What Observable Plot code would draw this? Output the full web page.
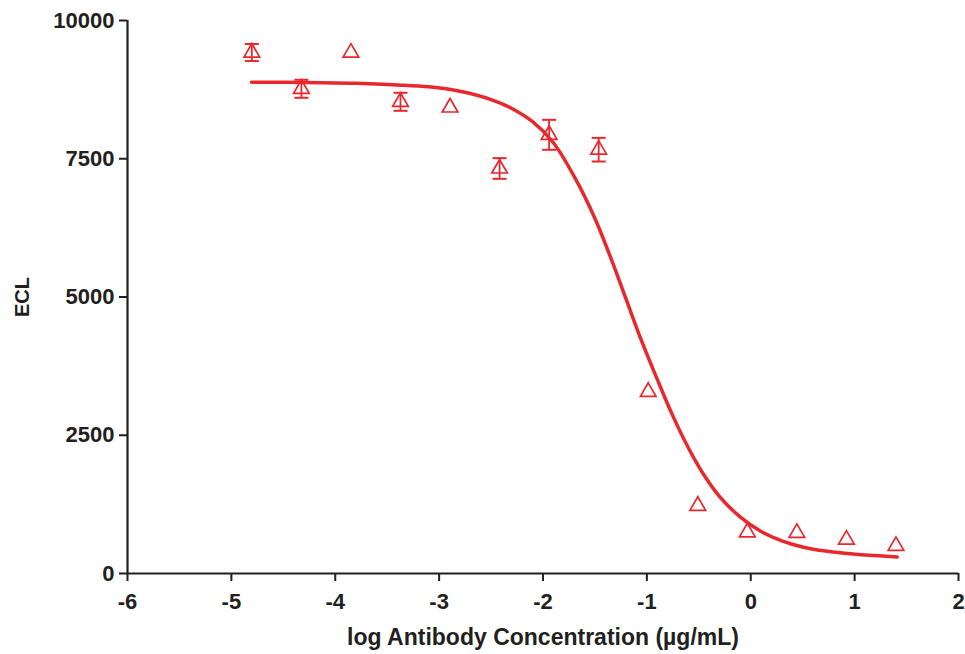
<!DOCTYPE html>
<html>
<head>
<meta charset="utf-8">
<script src="https://cdn.jsdelivr.net/npm/d3@7"></script>
<script src="https://cdn.jsdelivr.net/npm/@observablehq/plot@0.6"></script>
<style>
  html, body { margin: 0; padding: 0; background: #fff; }
  #chart svg { display: block; }
</style>
</head>
<body>
<div id="chart"></div>
<script>
// Measured points (log10 antibody concentration, ECL mean, SD)
const logConc = [-4.803, -4.326, -3.849, -3.372, -2.895, -2.418, -1.941, -1.464, -0.987, -0.510, -0.033, 0.444, 0.921, 1.398];
const eclMean = [9421, 8765, 9418, 8530, 8427, 7324, 7933, 7664, 3285, 1224, 745, 735, 612, 500];
const eclSD   = [154, 163, null, 163, null, 187, 271, 214, null, null, null, null, null, null];

// Fitted curve
const fitX = [-4.806, -4.3, -3.8, -3.4, -3.1, -2.8, -2.5, -2.3, -2.1, -1.9, -1.7, -1.5, -1.35, -1.2, -1.05, -0.9, -0.75, -0.6, -0.45, -0.3, -0.1, 0.1, 0.3, 0.5, 0.7, 0.9, 1.1, 1.41];
const fitY = [8885, 8880, 8865, 8835, 8800, 8720, 8570, 8410, 8170, 7790, 7180, 6420, 5720, 4960, 4200, 3510, 2850, 2270, 1780, 1390, 1020, 760, 590, 480, 410, 365, 335, 300];

const xTicks = [-6, -5, -4, -3, -2, -1, 0, 1, 2];
const yTicks = [0, 2500, 5000, 7500, 10000];
const xTitle = "log Antibody Concentration (µg/mL)";
const yTitle = "ECL";

const points = logConc.map((x, i) => ({x, y: eclMean[i], sd: eclSD[i]}));
const bars = points.filter(d => d.sd != null);
const fit = fitX.map((x, i) => ({x, y: fitY[i]}));

const red = "#e8282d";
const ink = "#231f20";

const cap = { draw(ctx) { ctx.moveTo(-7, 0); ctx.lineTo(7, 0); } };

const chart = Plot.plot({
  width: 965,
  height: 654,
  marginLeft: 127,
  marginRight: 7,
  marginTop: 20,
  marginBottom: 81,
  style: {fontFamily: "'Liberation Sans', Arial, sans-serif", fontSize: "22px", fontWeight: "bold", color: ink, background: "#fff"},
  x: {domain: [-6, 2]},
  y: {domain: [0, 10000]},
  marks: [
    Plot.axisX({ticks: xTicks, tickSize: 8, tickPadding: 12, strokeWidth: 2, stroke: ink, tickFormat: d => String(d), label: null}),
    Plot.axisY({ticks: yTicks, tickSize: 8, tickPadding: 5, strokeWidth: 2, stroke: ink, tickFormat: d => String(d), label: null}),
    Plot.ruleY([0], {stroke: ink, strokeWidth: 2.2}),
    Plot.ruleX([-6], {stroke: ink, strokeWidth: 2.2}),
    Plot.line(fit, {x: "x", y: "y", stroke: red, strokeWidth: 3.5, curve: "catmull-rom"}),
    Plot.ruleX(bars, {x: "x", y1: d => d.y - d.sd, y2: d => d.y + d.sd, stroke: red, strokeWidth: 1.8}),
    Plot.dot(bars, {x: "x", y: d => d.y + d.sd, symbol: cap, stroke: red, strokeWidth: 2}),
    Plot.dot(bars, {x: "x", y: d => d.y - d.sd, symbol: cap, stroke: red, strokeWidth: 2}),
    Plot.dot(points, {x: "x", y: "y", symbol: "triangle", r: 5.8, stroke: red, strokeWidth: 1.7, fill: "none"}),
    Plot.text([xTitle], {frameAnchor: "bottom", dy: 71, fontSize: 23, fontWeight: "bold", fill: ink}),
    Plot.text([yTitle], {frameAnchor: "left", textAnchor: "middle", dx: -105, rotate: -90, fontSize: 20, fontWeight: "bold", fill: ink})
  ]
});
document.getElementById("chart").appendChild(chart);
</script>
</body>
</html>
